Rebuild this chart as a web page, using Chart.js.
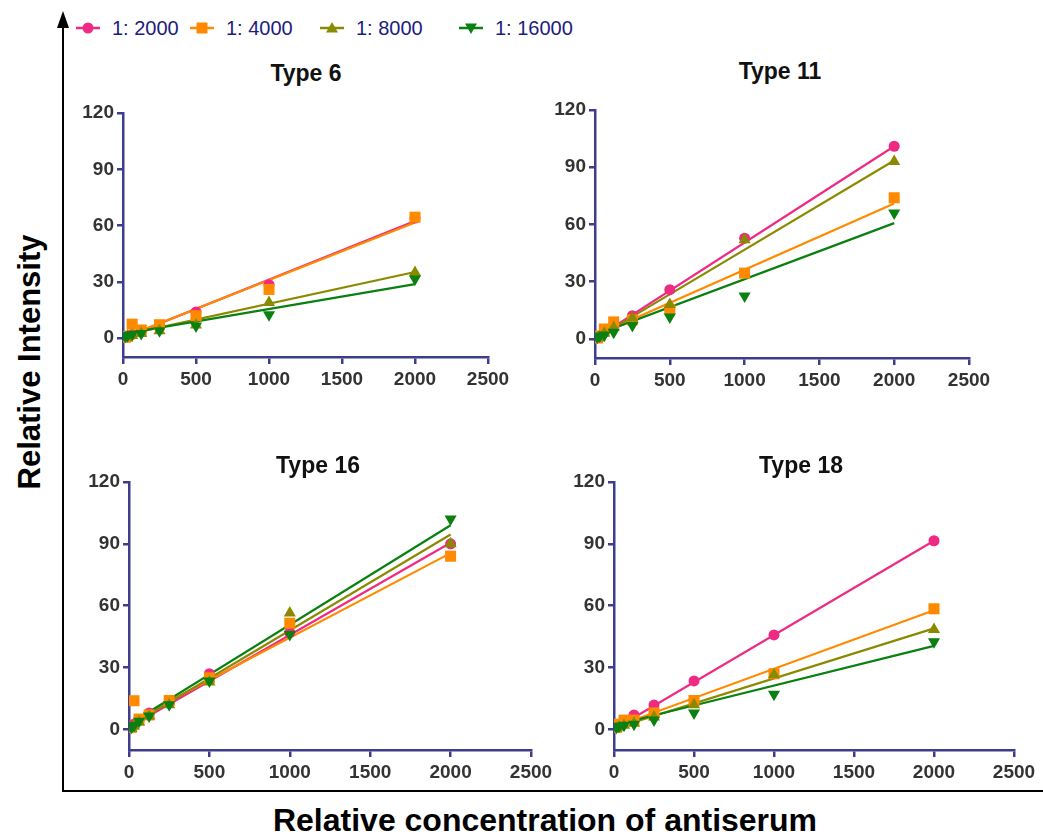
<!DOCTYPE html>
<html>
<head>
<meta charset="utf-8">
<script src="https://cdn.jsdelivr.net/npm/chart.js@4.4.1/dist/chart.umd.min.js"></script>
<style>
  body { margin: 0; background: #fff; width: 1043px; height: 836px; position: relative; overflow: hidden;
         font-family: "Liberation Sans", Arial, sans-serif; }
  canvas { position: absolute; }
  .title { position: absolute; font-weight: bold; font-size: 23px; line-height: 23px; color: #111;
           transform: translateX(-50%); white-space: nowrap; }
  .legend { position: absolute; top: 17px; font-size: 20px; line-height: 22px; color: #1c1c7c; white-space: nowrap; }
  .legend svg { vertical-align: middle; margin-right: 12px; margin-top: -3px; }
  #ylab { position: absolute; left: 30px; top: 362px; font-weight: bold; font-size: 31px; color: #000;
          transform: translate(-50%, -50%) rotate(-90deg); white-space: nowrap; }
  #xlab { position: absolute; left: 545px; top: 820px; font-weight: bold; font-size: 32px; color: #000;
          transform: translate(-50%, -50%); white-space: nowrap; }
</style>
</head>
<body>

<svg width="1043" height="836" style="position:absolute;left:0;top:0">
  <line x1="63" y1="24" x2="63" y2="792" stroke="#000" stroke-width="2"/>
  <polygon points="63,11 57,28 69,28" fill="#000"/>
  <line x1="62" y1="791" x2="1043" y2="791" stroke="#000" stroke-width="2"/>
</svg>

<div id="ylab">Relative Intensity</div>
<div id="xlab">Relative concentration of antiserum</div>

<script>
// x positions (antiserum dilution steps)
const conc = [15.6, 31.25, 62.5, 125, 250, 500, 1000, 2000];

const seriesNames = ['1: 2000', '1: 4000', '1: 8000', '1: 16000'];
const seriesColors = ['#ee2a84', '#ff8a00', '#8a8a00', '#0a8010'];
const seriesShapes = ['circle', 'rect', 'triangle', 'triangle'];

const panelTitles = ['Type 6', 'Type 11', 'Type 16', 'Type 18'];

// measured intensities, one row per dilution
const type6 = [
  [0.5, 1, 2, 4, 6, 14, 28.5, 64],
  [0.5, 1, 7.5, 4.4, 7.2, 12, 26, 64.5],
  [0.5, 1, 1.5, 2.5, 4, 7, 19, 35],
  [1, 1.5, 2, 2.5, 4, 6.5, 12.5, 31.5]
];
const type11 = [
  [0.5, 1.5, 3.5, 7, 12.2, 25.8, 52.8, 101],
  [0.5, 1.5, 5.2, 8.9, 10, 15.5, 34.5, 74],
  [0.5, 1, 3, 6, 11, 18, 52, 93],
  [1, 1.5, 2, 3.5, 7, 11.5, 22.5, 66]
];
const type16 = [
  [1, 2.5, 4.5, 8, 13, 27, 47, 90],
  [1, 13.9, 5, 7, 14, 25, 51.5, 84],
  [0.5, 1.5, 3.5, 6.5, 12, 23, 56.5, 90],
  [1, 2, 4, 6.5, 12, 23.5, 46, 102]
];
const type18 = [
  [1, 2, 4, 7, 11.8, 23.5, 45.8, 91.5],
  [1, 2.5, 4.5, 4.5, 8, 14, 27, 58.5],
  [0.5, 1, 2, 3, 6, 12, 26.5, 48.5],
  [1, 1.5, 2, 2.5, 4.5, 8, 17, 42.5]
];

// fitted lines: value at x=0 and at x=2000
const fit6 = [[0, 62.5], [0.3, 61.7], [1.5, 35.3], [2.3, 28.8]];
const fit11 = [[0, 101], [1.5, 71], [0, 93.5], [2, 60.7]];
const fit16 = [[1, 90.5], [3.5, 85.5], [1.5, 94.5], [2.5, 99]];
const fit18 = [[0, 91.5], [1, 57.8], [0.5, 49], [2, 40.5]];

const xTicks = [0, 500, 1000, 1500, 2000, 2500];
const yTicks = [0, 30, 60, 90, 120];

const axisColor = '#3d3d8e';

// chart-area boxes on the page: left, top, right, bottom
const panels = [
  { title: panelTitles[0], values: type6, fit: fit6, area: [123, 113, 488, 357], titlePos: [306, 62] },
  { title: panelTitles[1], values: type11, fit: fit11, area: [595, 110, 969, 358], titlePos: [780, 60] },
  { title: panelTitles[2], values: type16, fit: fit16, area: [129, 482, 531, 750], titlePos: [318, 454] },
  { title: panelTitles[3], values: type18, fit: fit18, area: [614, 482, 1014, 750], titlePos: [801, 454] }
];

const Y_W = 60, X_H = 45, PAD_T = 15, PAD_R = 45;

function pointSize(i) {
  if (seriesShapes[i] === 'rect') return 7.8;
  if (seriesShapes[i] === 'triangle') return 7;
  return 5.5;
}

const tickFont = { family: 'Liberation Sans', size: 19, weight: 'bold' };

panels.forEach(function(p) {
  const [l, t, r, b] = p.area;
  const cv = document.createElement('canvas');
  cv.width = (r - l) + Y_W + PAD_R;
  cv.height = (b - t) + PAD_T + X_H;
  cv.style.left = (l - Y_W) + 'px';
  cv.style.top = (t - PAD_T) + 'px';
  document.body.appendChild(cv);

  const tt = document.createElement('div');
  tt.className = 'title';
  tt.textContent = p.title;
  tt.style.left = p.titlePos[0] + 'px';
  tt.style.top = p.titlePos[1] + 'px';
  document.body.appendChild(tt);

  const datasets = [];
  p.values.forEach(function(vals, i) {
    datasets.push({
      type: 'line',
      label: seriesNames[i] + ' fit',
      data: [{ x: 0, y: p.fit[i][0] }, { x: 2000, y: p.fit[i][1] }],
      borderColor: seriesColors[i],
      borderWidth: 2.2,
      pointRadius: 0,
      fill: false,
      order: 8 - i
    });
    datasets.push({
      type: 'scatter',
      label: seriesNames[i],
      data: vals.map(function(v, k) { return { x: conc[k], y: v }; }),
      backgroundColor: seriesColors[i],
      borderColor: seriesColors[i],
      borderWidth: 0,
      pointStyle: seriesShapes[i],
      rotation: i === 3 ? 180 : 0,
      pointRadius: pointSize(i),
      order: 4 - i
    });
  });

  new Chart(cv, {
    data: { datasets: datasets },
    options: {
      responsive: false,
      animation: false,
      devicePixelRatio: 1,
      layout: { padding: { left: 0, top: PAD_T, right: PAD_R, bottom: 0 } },
      plugins: { legend: { display: false }, tooltip: { enabled: false } },
      scales: {
        x: {
          type: 'linear', min: 0, max: 2500,
          afterFit: function(s) { s.height = X_H; },
          afterBuildTicks: function(s) { s.ticks = xTicks.map(function(v) { return { value: v }; }); },
          border: { color: axisColor, width: 2.5 },
          grid: { drawOnChartArea: false, drawTicks: true, tickLength: 7, color: axisColor, lineWidth: 2.5 },
          ticks: { color: '#333', font: tickFont, padding: 4, maxRotation: 0,
                   callback: function(v) { return String(v); } }
        },
        y: {
          type: 'linear', min: -10, max: 120,
          afterFit: function(s) { s.width = Y_W; },
          afterBuildTicks: function(s) { s.ticks = yTicks.map(function(v) { return { value: v }; }); },
          border: { color: axisColor, width: 2.5 },
          grid: { drawOnChartArea: false, drawTicks: true, tickLength: 6, color: axisColor, lineWidth: 2.5 },
          ticks: { color: '#333', font: tickFont, padding: 3,
                   callback: function(v) { return String(v); } }
        }
      }
    }
  });
});

// legend
const legendX = [76, 190, 320, 459];
seriesNames.forEach(function(name, i) {
  const d = document.createElement('div');
  d.className = 'legend';
  d.style.left = legendX[i] + 'px';
  const c = seriesColors[i];
  let mark;
  if (seriesShapes[i] === 'circle') mark = '<circle cx="12" cy="11" r="5.5" fill="' + c + '"/>';
  else if (seriesShapes[i] === 'rect') mark = '<rect x="6.5" y="5.5" width="11" height="11" fill="' + c + '"/>';
  else if (i === 2) mark = '<polygon points="12,5 18,15.5 6,15.5" fill="' + c + '"/>';
  else mark = '<polygon points="12,17 18,6.5 6,6.5" fill="' + c + '"/>';
  d.innerHTML = '<svg width="24" height="22"><line x1="0" y1="11" x2="24" y2="11" stroke="' + c +
    '" stroke-width="2.5"/>' + mark + '</svg>' + name;
  document.body.appendChild(d);
});
</script>
</body>
</html>
